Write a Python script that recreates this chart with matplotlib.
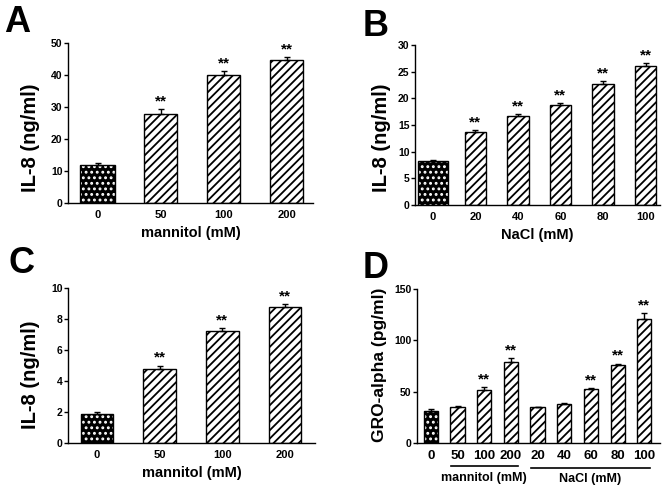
import numpy as np
import matplotlib
matplotlib.use("Agg")
from matplotlib import pyplot as plt

plt.rcParams['font.family'] = ['Liberation Sans', 'DejaVu Sans']
plt.rcParams['font.weight'] = 'bold'
plt.rcParams['hatch.linewidth'] = 1.3

# panel A: IL-8 vs mannitol
a_labels = ['0', '50', '100', '200']
a_vals = [11.8, 27.8, 39.9, 44.7]
a_err = [0.7, 1.5, 1.3, 0.9]
a_sig = [False, True, True, True]

# panel B: IL-8 vs NaCl
b_labels = ['0', '20', '40', '60', '80', '100']
b_vals = [8.3, 13.75, 16.6, 18.8, 22.6, 26.0]
b_err = [0.15, 0.35, 0.45, 0.25, 0.6, 0.6]
b_sig = [False, True, True, True, True, True]

# panel C: IL-8 vs mannitol (second set)
c_labels = ['0', '50', '100', '200']
c_vals = [1.87, 4.8, 7.2, 8.77]
c_err = [0.13, 0.19, 0.22, 0.2]
c_sig = [False, True, True, True]

# panel D: GRO-alpha
d_labels = ['0', '50', '100', '200', '20', '40', '60', '80', '100']
d_vals = [31.3, 35.5, 51.9, 79.0, 34.8, 38.4, 52.3, 75.8, 120.6]
d_err = [2.2, 0.8, 2.3, 3.6, 0.4, 0.5, 1.3, 1.6, 5.9]
d_sig = [False, False, True, True, False, False, True, True, True]


def panel(ax, labels, vals, err, sig, ymax, ystep, xlim, w_ctrl, w_bar, xlabel, tfs=8):
    x = np.arange(len(vals))
    for i in range(len(vals)):
        w = w_ctrl if i == 0 else w_bar
        if i == 0:
            ax.bar(x[i], vals[i], w, color='black', edgecolor='white', hatch='...', linewidth=0, zorder=2)
            ax.bar(x[i], vals[i], w, fill=False, edgecolor='black', linewidth=1, zorder=3)
        else:
            ax.bar(x[i], vals[i], w, color='white', edgecolor='black', hatch='////', linewidth=1, zorder=2)
    ax.errorbar(x, vals, yerr=[np.zeros(len(vals)), err], fmt='none', ecolor='black',
                elinewidth=1, capsize=2.5, capthick=1, zorder=4)
    for i in range(len(vals)):
        if sig[i]:
            ax.text(x[i], vals[i] + err[i] + ymax * 0.005, '**', ha='center', va='bottom',
                    fontsize=11, fontweight='bold')
    ax.set_ylim(0, ymax)
    ax.set_xlim(*xlim)
    ax.set_yticks(np.arange(0, ymax + ystep / 2, ystep))
    ax.set_xticks(x)
    ax.set_xticklabels(labels)
    ax.tick_params(axis='x', length=0, labelsize=tfs, pad=5)
    ax.tick_params(axis='y', length=3, width=1, labelsize=7.5, pad=1)
    ax.spines['top'].set_visible(False)
    ax.spines['right'].set_visible(False)
    ax.spines['left'].set_linewidth(1)
    ax.spines['bottom'].set_linewidth(1)
    if xlabel:
        ax.set_xlabel(xlabel, fontsize=10.5, fontweight='bold', labelpad=4)


fig = plt.figure(figsize=(6.69, 4.86), dpi=100)
W, H = 669.0, 486.0


def add_axes(l, r, t, b):
    return fig.add_axes([l / W, 1 - b / H, (r - l) / W, (b - t) / H])


axA = add_axes(68, 313, 43, 203)
panel(axA, a_labels, a_vals, a_err, a_sig, 50, 10, (-0.47, 3.42), 0.55, 0.52, 'mannitol (mM)')
axB = add_axes(415, 660, 45, 205)
panel(axB, b_labels, b_vals, b_err, b_sig, 30, 5, (-0.42, 5.34), 0.7, 0.5, 'NaCl (mM)')
axC = add_axes(68, 315, 288, 443)
panel(axC, c_labels, c_vals, c_err, c_sig, 10, 2, (-0.46, 3.48), 0.52, 0.52, 'mannitol (mM)')
axD = add_axes(417, 660, 289, 443)
panel(axD, d_labels, d_vals, d_err, d_sig, 150, 50, (-0.52, 8.59), 0.5, 0.53, None, tfs=9.5)

# y labels placed in figure pixels
fig.text(30 / W, 1 - 138 / H, 'IL-8 (ng/ml)', rotation=90, ha='center', va='center', fontsize=14.5, fontweight='bold')
fig.text(382 / W, 1 - 138 / H, 'IL-8 (ng/ml)', rotation=90, ha='center', va='center', fontsize=14.5, fontweight='bold')
fig.text(30 / W, 1 - 375 / H, 'IL-8 (ng/ml)', rotation=90, ha='center', va='center', fontsize=14.5, fontweight='bold')
fig.text(379 / W, 1 - 365 / H, 'GRO-alpha (pg/ml)', rotation=90, ha='center', va='center', fontsize=12.5, fontweight='bold')

# group lines under panel D
fig.add_artist(plt.Line2D([451 / W, 518 / W], [1 - 466 / H, 1 - 466 / H], color='black', lw=1.2))
fig.add_artist(plt.Line2D([531 / W, 650 / W], [1 - 467.5 / H, 1 - 467.5 / H], color='black', lw=1.2))
fig.text(484 / W, 1 - 478 / H, 'mannitol (mM)', ha='center', va='center', fontsize=9, fontweight='bold')
fig.text(590 / W, 1 - 479 / H, 'NaCl (mM)', ha='center', va='center', fontsize=9, fontweight='bold')

# panel letters
for lab, px, py in [('A', 4, 5), ('B', 363, 9), ('C', 9, 246), ('D', 363, 251)]:
    fig.text(px / W, 1 - py / H, lab, ha='left', va='top', fontsize=26, fontweight='bold')

fig.savefig('out.png', dpi=100)
